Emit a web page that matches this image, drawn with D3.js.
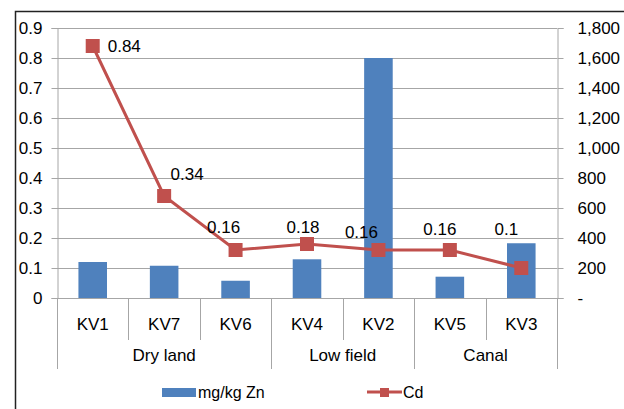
<!DOCTYPE html>
<html>
<head>
<meta charset="utf-8">
<script src="https://cdn.jsdelivr.net/npm/d3@7"></script>
<style>
  body { margin: 0; background: #fff; }
  svg { display: block; font-family: "Liberation Sans", Arial, sans-serif; }
</style>
</head>
<body>
<svg id="chart" width="624" height="409"></svg>
<script>
// data
const samples = ['KV1', 'KV7', 'KV6', 'KV4', 'KV2', 'KV5', 'KV3'];
const groups = [
  { name: 'Dry land', from: 'KV1', to: 'KV6' },
  { name: 'Low field', from: 'KV4', to: 'KV2' },
  { name: 'Canal', from: 'KV5', to: 'KV3' }
];
const znValues = [240, 215, 115, 258, 1600, 142, 365];   // mg/kg Zn, right axis
const cdValues = [0.84, 0.34, 0.16, 0.18, 0.16, 0.16, 0.1]; // Cd, left axis
const leftTicks = [0, 0.1, 0.2, 0.3, 0.4, 0.5, 0.6, 0.7, 0.8, 0.9];
const rightTicks = [0, 200, 400, 600, 800, 1000, 1200, 1400, 1600, 1800];

// label nudges (layout only) relative to point, [dx, dy]
const labelNudge = [[15, 0], [23, -22], [-12, -23], [-4, -17], [-17, -18], [-10, -21], [-15, -39]];

const svg = d3.select('#chart');
const margin = { left: 57, right: 557, top: 28, bottom: 298 };
const blue = '#4F81BD', red = '#C0504D', grid = '#A6A6A6';
const fontSize = 17;

// outer frame
svg.append('rect')
  .attr('x', 15.5).attr('y', 11.5)
  .attr('width', 700).attr('height', 500)
  .attr('fill', 'none').attr('stroke', '#222').attr('stroke-width', 1.5);

const x = d3.scaleBand().domain(samples).range([margin.left, margin.right]);
const yL = d3.scaleLinear().domain([0, 0.9]).range([margin.bottom, margin.top]);
const yR = d3.scaleLinear().domain([0, 1800]).range([margin.bottom, margin.top]);

// gridlines
svg.append('g').selectAll('line')
  .data(leftTicks.filter(d => d > 0))
  .join('line')
  .attr('x1', margin.left).attr('x2', margin.right)
  .attr('y1', d => Math.round(yL(d)) + 0.5).attr('y2', d => Math.round(yL(d)) + 0.5)
  .attr('stroke', grid);

// left axis
const leftAxis = svg.append('g')
  .attr('transform', `translate(${margin.left + 0.5},0)`)
  .call(d3.axisLeft(yL).tickValues(leftTicks).tickSize(6).tickPadding(9)
    .tickFormat(d => d === 0 ? '0' : d3.format('.1f')(d)));
// right axis
const rightAxis = svg.append('g')
  .attr('transform', `translate(${margin.right + 0.5},0)`)
  .call(d3.axisRight(yR).tickValues(rightTicks).tickSize(6).tickPadding(14)
    .tickFormat(d => d === 0 ? '-' : d3.format(',')(d)));
[leftAxis, rightAxis].forEach(a => {
  a.select('.domain').attr('stroke', grid);
  a.selectAll('.tick line').attr('stroke', grid);
  a.selectAll('.tick text')
    .attr('font-family', '"Liberation Sans", Arial, sans-serif')
    .attr('font-size', fontSize).attr('fill', '#000');
});
leftAxis.selectAll('.tick').attr('transform', d => `translate(0,${Math.round(yL(d)) + 0.5})`);
rightAxis.selectAll('.tick').attr('transform', d => `translate(0,${Math.round(yR(d)) + 0.5})`);

// bars (Zn)
svg.append('g').selectAll('rect')
  .data(samples)
  .join('rect')
  .attr('x', (d) => x(d) + x.bandwidth() * 0.3)
  .attr('width', x.bandwidth() * 0.4)
  .attr('y', (d, i) => yR(znValues[i]))
  .attr('height', (d, i) => margin.bottom - yR(znValues[i]))
  .attr('fill', blue);

// category axis baseline
svg.append('line')
  .attr('x1', margin.left).attr('x2', margin.right)
  .attr('y1', margin.bottom + 0.5).attr('y2', margin.bottom + 0.5)
  .attr('stroke', grid);

// category separators
const groupEdges = new Set([margin.left]);
groups.forEach(g => groupEdges.add(x(g.to) + x.bandwidth()));
const edges = samples.map(s => x(s)).concat([margin.right]);
svg.append('g').selectAll('line')
  .data(edges)
  .join('line')
  .attr('x1', d => Math.round(d) + 0.5).attr('x2', d => Math.round(d) + 0.5)
  .attr('y1', margin.bottom)
  .attr('y2', d => [...groupEdges].some(e => Math.abs(e - d) < 1) ? 369 : 340)
  .attr('stroke', grid);

// sample labels
svg.append('g').selectAll('text')
  .data(samples)
  .join('text')
  .attr('x', d => x(d) + x.bandwidth() / 2)
  .attr('y', 324)
  .attr('text-anchor', 'middle').attr('dominant-baseline', 'central')
  .attr('font-size', fontSize)
  .text(d => d);

// group labels
svg.append('g').selectAll('text')
  .data(groups)
  .join('text')
  .attr('x', g => (x(g.from) + x(g.to) + x.bandwidth()) / 2)
  .attr('y', 355)
  .attr('text-anchor', 'middle').attr('dominant-baseline', 'central')
  .attr('font-size', fontSize)
  .text(g => g.name);

// Cd line
const cx = (d, i) => x(samples[i]) + x.bandwidth() / 2;
svg.append('path')
  .datum(cdValues)
  .attr('d', d3.line().x(cx).y(d => yL(d)))
  .attr('fill', 'none').attr('stroke', red).attr('stroke-width', 3);
svg.append('g').selectAll('rect')
  .data(cdValues)
  .join('rect')
  .attr('x', (d, i) => cx(d, i) - 7).attr('y', d => yL(d) - 7)
  .attr('width', 14).attr('height', 14)
  .attr('fill', red);

// data labels
svg.append('g').selectAll('text')
  .data(cdValues)
  .join('text')
  .attr('x', (d, i) => cx(d, i) + labelNudge[i][0])
  .attr('y', (d, i) => yL(d) + labelNudge[i][1])
  .attr('text-anchor', (d, i) => i === 0 ? 'start' : 'middle')
  .attr('dominant-baseline', 'central')
  .attr('font-size', fontSize)
  .text(d => d);

// legend
const legend = svg.append('g');
legend.append('rect').attr('x', 162).attr('y', 388).attr('width', 34).attr('height', 9).attr('fill', blue);
legend.append('text').attr('x', 198).attr('y', 392).attr('dominant-baseline', 'central')
  .attr('font-size', 16).text('mg/kg Zn');
legend.append('line').attr('x1', 367).attr('x2', 402).attr('y1', 392).attr('y2', 392)
  .attr('stroke', red).attr('stroke-width', 3);
legend.append('rect').attr('x', 380).attr('y', 388).attr('width', 9).attr('height', 9).attr('fill', red);
legend.append('text').attr('x', 403).attr('y', 392).attr('dominant-baseline', 'central')
  .attr('font-size', 16).text('Cd');
</script>
</body>
</html>
